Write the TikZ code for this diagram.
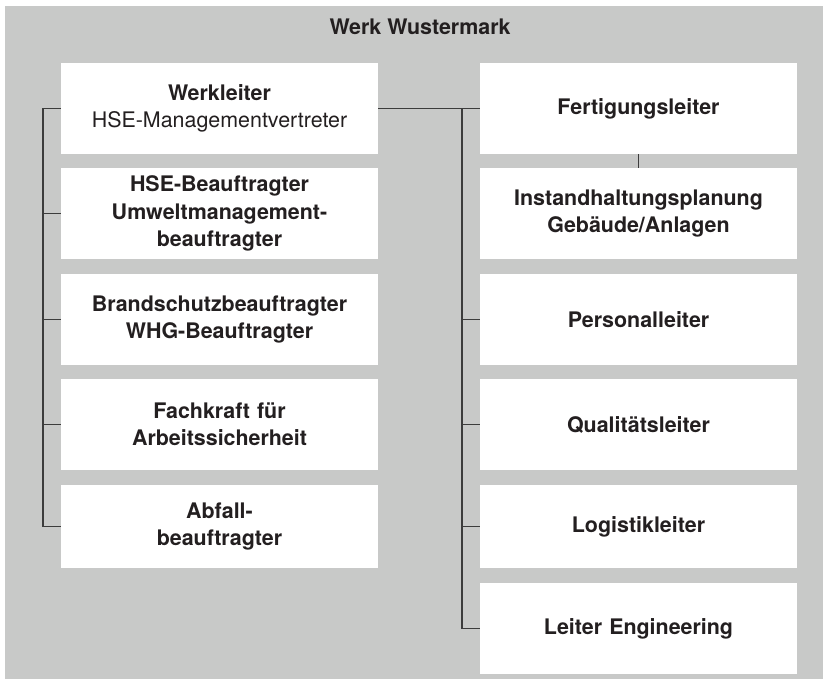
\documentclass[tikz,border=0pt]{standalone}
\usepackage{fontspec}
\setmainfont{TeX Gyre Heros}
\definecolor{werkgrau}{RGB}{200,201,200}
\definecolor{schrift}{RGB}{35,31,32}
\definecolor{linie}{RGB}{60,60,60}
\begin{document}
\begin{tikzpicture}[x=1bp,y=-1bp,
  stelle/.style={fill=white,minimum width=317bp,text width=300bp,align=center,
    inner sep=0pt,text=schrift,font=\bfseries\fontsize{21.5}{27.5}\selectfont},
  linie/.style={draw=linie,line width=1.2bp}]
\useasboundingbox (0,0) rectangle (823,679);
\fill[werkgrau] (5,6) rectangle (823,679);
\node[text=schrift,font=\bfseries\fontsize{21.5}{26}\selectfont] (werk) at (420,27) {Werk Wustermark};
\node[stelle,minimum height=91bp] (wl) at (219.5,108.5) {Werkleiter\\{\normalfont\fontsize{21.5}{27.5}\selectfont HSE-Managementvertreter}};
\node[stelle,minimum height=91bp] (hse) at (219.5,213.5) {HSE-Beauftragter\\Umweltmanagement-\\beauftragter};
\node[stelle,minimum height=91bp] (brand) at (219.5,319.5) {Brandschutzbeauftragter\\WHG-Beauftragter};
\node[stelle,minimum height=91bp] (fasi) at (219.5,424.5) {Fachkraft f\"ur\\Arbeitssicherheit};
\node[stelle,minimum height=83bp] (abf) at (219.5,526.5) {Abfall-\\beauftragter};
\node[stelle,minimum height=91bp] (fert) at (638.5,108.5) {Fertigungsleiter};
\node[stelle,minimum height=91bp] (inst) at (638.5,213.5) {Instandhaltungsplanung\\Geb\"aude/Anlagen};
\node[stelle,minimum height=91bp] (pers) at (638.5,319.5) {Personalleiter};
\node[stelle,minimum height=91bp] (qual) at (638.5,424.5) {Qualit\"atsleiter};
\node[stelle,minimum height=83bp] (log) at (638.5,526.5) {Logistikleiter};
\node[stelle,minimum height=91bp] (eng) at (638.5,628.5) {Leiter Engineering};
\coordinate (lbus) at (43,108.5);
\coordinate (rbus) at (462,108.5);
\draw[linie] (wl.west) -- (lbus) |- (abf.west);
\draw[linie] (hse.west) -- (hse.west -| lbus);
\draw[linie] (brand.west) -- (brand.west -| lbus);
\draw[linie] (fasi.west) -- (fasi.west -| lbus);
\draw[linie] (wl.east) -- (fert.west);
\draw[linie] (rbus) |- (eng.west);
\draw[linie] (pers.west) -- (pers.west -| rbus);
\draw[linie] (qual.west) -- (qual.west -| rbus);
\draw[linie] (log.west) -- (log.west -| rbus);
\draw[linie] (fert.south) -- (inst.north);
\end{tikzpicture}
\end{document}
